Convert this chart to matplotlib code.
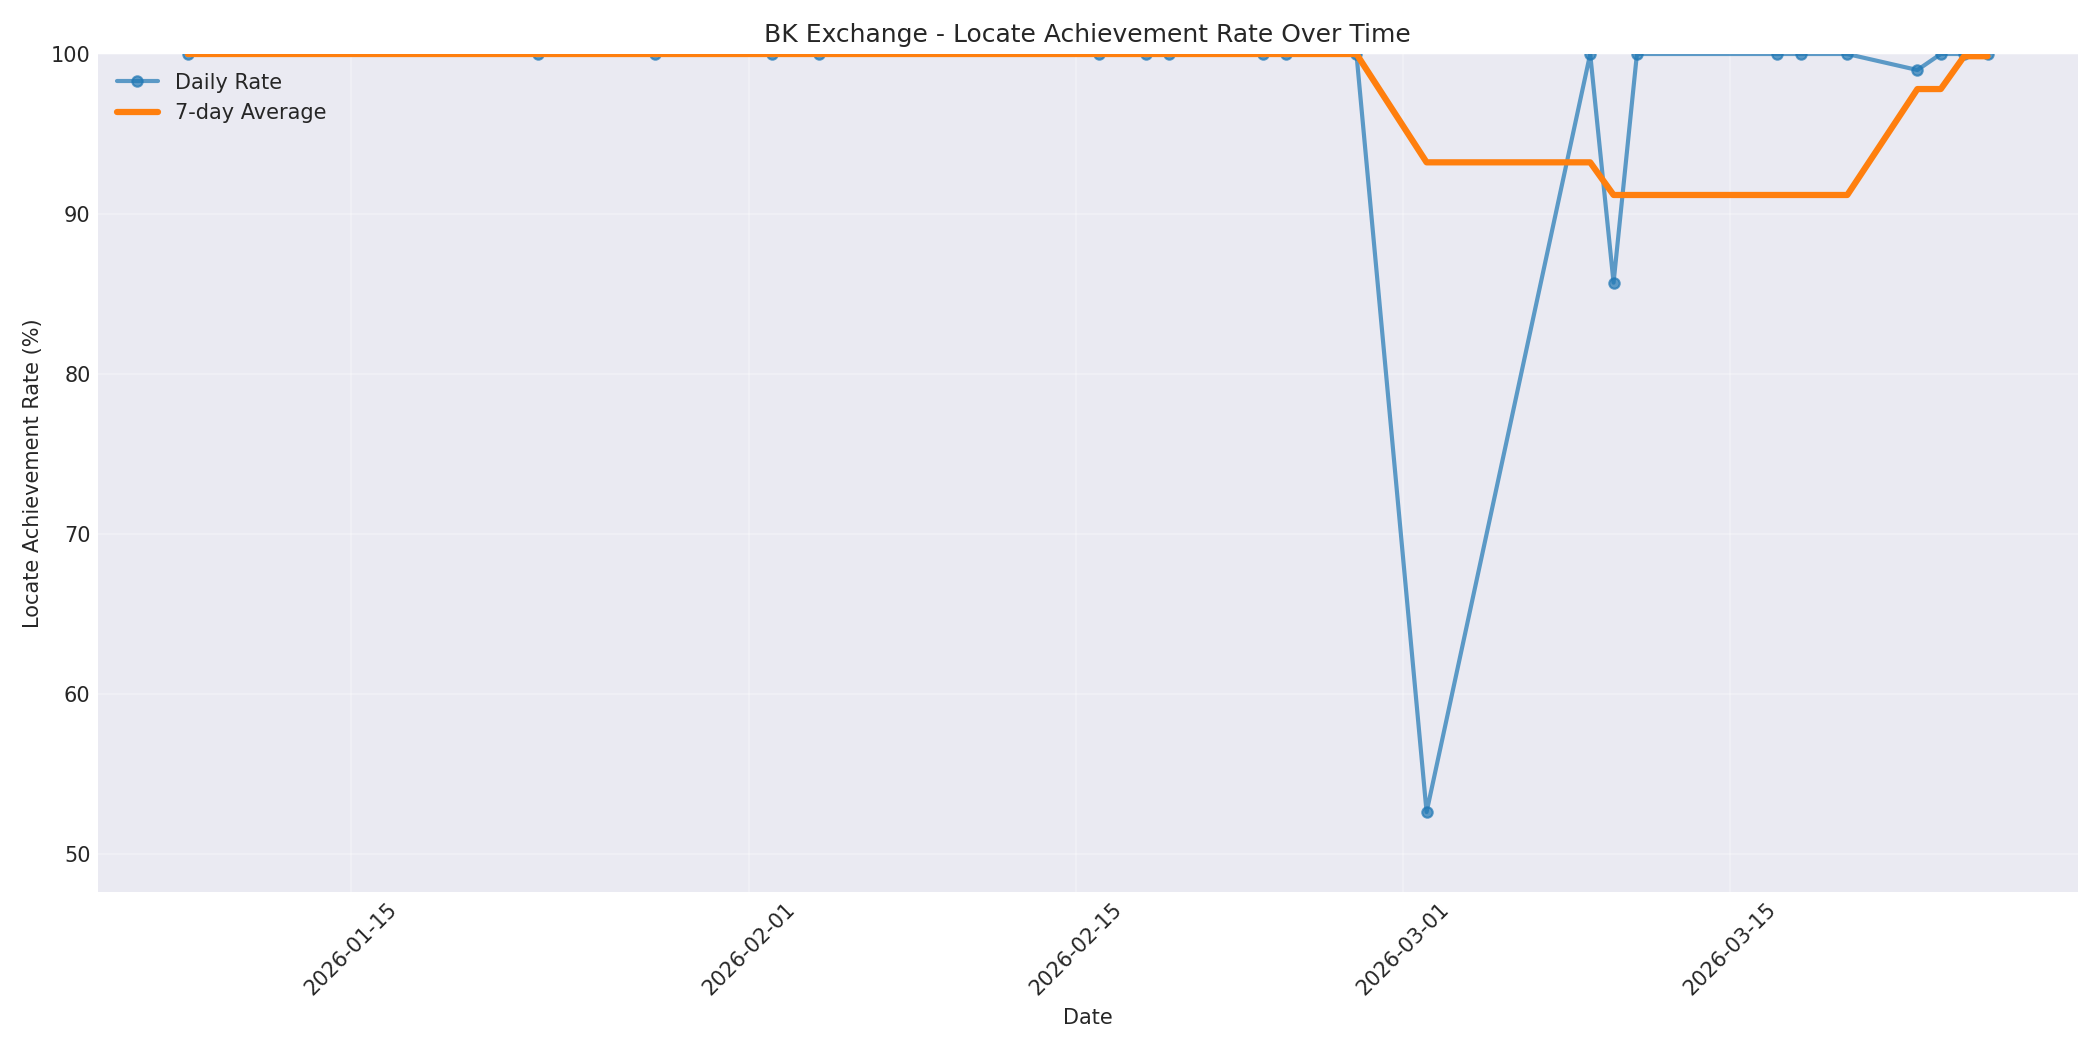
import numpy as np
import pandas as pd
import matplotlib
matplotlib.use("Agg")
import matplotlib.pyplot as plt

# daily locate achievement rate (%) for BK
dates = pd.to_datetime([
    "2026-01-08", "2026-01-23", "2026-01-28", "2026-02-02", "2026-02-04",
    "2026-02-16", "2026-02-18", "2026-02-19", "2026-02-23", "2026-02-24",
    "2026-02-27", "2026-03-02", "2026-03-09", "2026-03-10", "2026-03-11",
    "2026-03-17", "2026-03-18", "2026-03-20", "2026-03-23", "2026-03-24",
    "2026-03-25", "2026-03-26",
])
daily_rate = [
    100, 100, 100, 100, 100,
    100, 100, 100, 100, 100,
    100, 52.63, 100, 85.71, 100,
    100, 100, 100, 99.0, 100,
    100, 100,
]
avg_7day = [
    100, 100, 100, 100, 100,
    100, 100, 100, 100, 100,
    100, 93.23, 93.23, 91.19, 91.19,
    91.19, 91.19, 91.19, 97.81, 97.81,
    99.86, 99.86,
]

plt.style.use("seaborn-v0_8-darkgrid")
plt.rcParams["font.family"] = ["DejaVu Sans"]

fig, ax = plt.subplots(figsize=(14, 7), dpi=150)

ax.plot(dates, daily_rate, marker="o", markersize=5, linewidth=2,
        alpha=0.7, color="#1f77b4", label="Daily Rate")
ax.plot(dates, avg_7day, linewidth=3, color="#ff7f0e", label="7-day Average")

ax.set_title("BK Exchange - Locate Achievement Rate Over Time")
ax.set_xlabel("Date")
ax.set_ylabel("Locate Achievement Rate (%)")
ax.set_ylim(min(daily_rate) - 5, 100)
ax.legend(loc="upper left")
ax.grid(True, alpha=0.3)
plt.xticks(rotation=45)

plt.tight_layout()
plt.savefig("out.png", dpi=150)
